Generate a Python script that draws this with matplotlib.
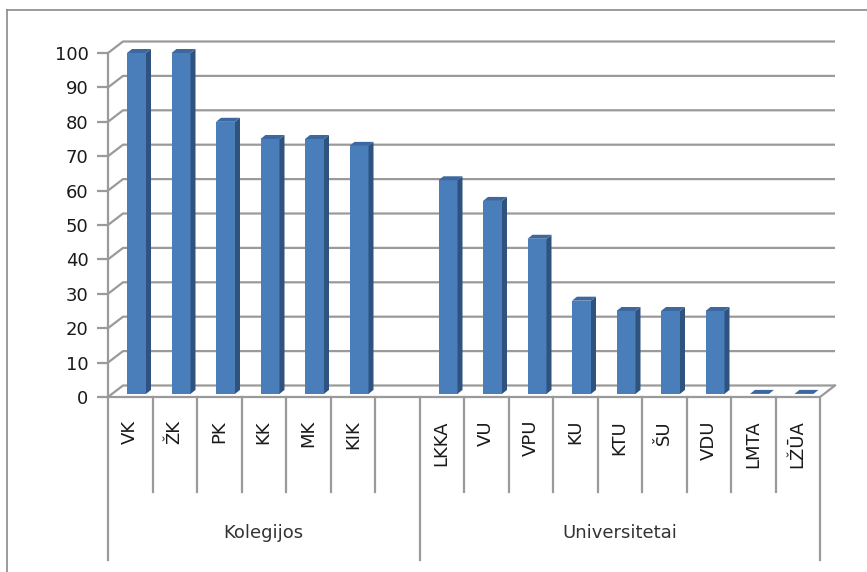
import matplotlib
matplotlib.use("Agg")
import matplotlib.pyplot as plt
from matplotlib.patches import Polygon

# ---- data ----
categories = ["VK", "ŽK", "PK", "KK", "MK", "KIK", "",
              "LKKA", "VU", "VPU", "KU", "KTU", "ŠU", "VDU", "LMTA", "LŽŪA"]
values = [100, 100, 80, 75, 75, 73, None,
          63, 57, 46, 28, 25, 25, 25, 0, 0]
groups = ["Kolegijos", "Universitetai"]
group_bounds = [(0, 7), (7, 16)]
y_ticks = list(range(0, 101, 10))

# ---- style ----
W, H = 867, 572
fig = plt.figure(figsize=(W / 100, H / 100), dpi=100)
plt.rcParams['font.family'] = ['DejaVu Sans']

ax_left, ax_right, ax_bottom, ax_top = 108, 820, 397, 53
ax = fig.add_axes([ax_left / W, (H - ax_bottom) / H,
                   (ax_right - ax_left) / W, (ax_bottom - ax_top) / H])
n = len(categories)
ax.set_xlim(0, n)
ax.set_ylim(0, 100)

px_x = n / (ax_right - ax_left)      # slot units per pixel
px_y = 100 / (ax_bottom - ax_top)    # value units per pixel

grid_col = '#9a9a9a'
# back wall offset
wdx, wdy = 15 * px_x, 11.5 * px_y

for t in y_ticks:
    ax.plot([0, wdx, n + wdx], [t, t + wdy, t + wdy], color=grid_col,
            lw=1.6, clip_on=False, zorder=1, solid_capstyle='butt')
# floor front edge and right slant
ax.plot([0, n, n + wdx], [0, 0, wdy], color=grid_col, lw=1.6, clip_on=False, zorder=1)

# spines / ticks
for s in ['top', 'right', 'bottom']:
    ax.spines[s].set_visible(False)
ax.spines['left'].set_color(grid_col)
ax.spines['left'].set_linewidth(1.6)
ax.set_yticks(y_ticks)
ax.set_yticklabels([str(t) for t in y_ticks])
ax.tick_params(axis='y', length=8, width=1.6, color=grid_col,
               labelsize=13, pad=6, labelcolor='#1a1a1a')
ax.set_xticks([])
ax.patch.set_visible(False)

# bars (3D look)
front_col, side_col, top_col = '#4a7ebb', '#2f527f', '#3c689f'
b_off, b_w = 19 * px_x, 19 * px_x
ddx, ddy = 5 * px_x, 4 * px_y
base = 0.9
for i, v in enumerate(values):
    if v is None:
        continue
    x0 = i + b_off
    x1 = x0 + b_w
    top = max(v, base)
    if v > base:
        ax.bar(x0, v - base, width=b_w, bottom=base, align='edge',
               color=front_col, edgecolor='none', zorder=3, clip_on=False)
        ax.add_patch(Polygon([(x1, base), (x1 + ddx, base + ddy),
                              (x1 + ddx, top + ddy), (x1, top)],
                             closed=True, facecolor=side_col, edgecolor='none',
                             zorder=3, clip_on=False))
    ax.add_patch(Polygon([(x0, top), (x0 + ddx, top + ddy),
                          (x1 + ddx, top + ddy), (x1, top)],
                         closed=True, facecolor=top_col, edgecolor='none',
                         zorder=4, clip_on=False))

# category axis (two-level)
sep_short = 95 * px_y
sep_long = 163 * px_y
group_edges = {g[0] for g in group_bounds} | {g[1] for g in group_bounds}
for k in range(n + 1):
    depth = sep_long if k in group_edges else sep_short
    ax.plot([k, k], [0, -depth], color=grid_col, lw=1.6, clip_on=False, zorder=1)

for i, c in enumerate(categories):
    if c:
        ax.text(i + 0.5, -23 * px_y, c, rotation=90, ha='center', va='top',
                fontsize=13, color='#1a1a1a', clip_on=False)

for g, (a, b) in zip(groups, group_bounds):
    ax.text((a + b) / 2, -136 * px_y, g, ha='center', va='center',
            fontsize=13, color='#333333', clip_on=False)

# outer chart border (top and left visible)
fig.add_artist(plt.Line2D([7 / W, 7 / W], [0, (H - 10) / H], color='#8a8a8a',
                          lw=1.2, transform=fig.transFigure))
fig.add_artist(plt.Line2D([7 / W, 1], [(H - 10) / H, (H - 10) / H], color='#8a8a8a',
                          lw=1.2, transform=fig.transFigure))

fig.savefig("out.png", dpi=100)
